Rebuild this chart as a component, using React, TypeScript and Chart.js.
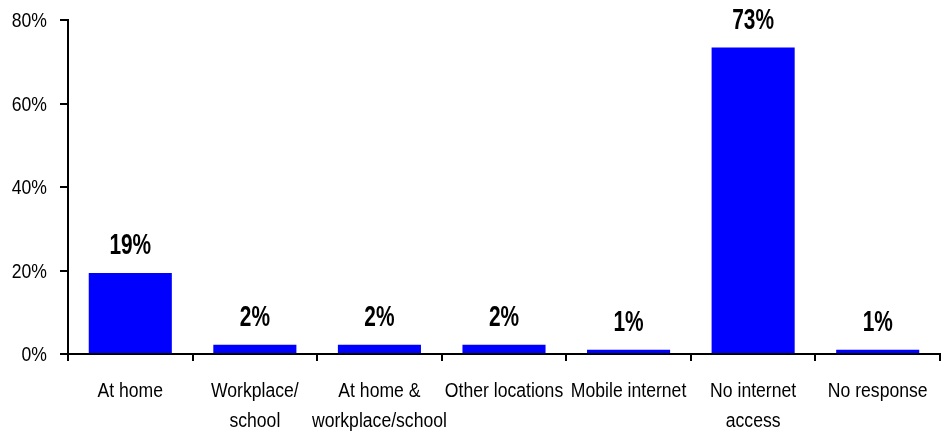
import React, { useEffect, useRef } from "react";
import { Chart, registerables } from "chart.js";

Chart.register(...registerables);

const categories: (string | string[])[] = [
  "At home",
  ["Workplace/", "school"],
  ["At home &", "workplace/school"],
  "Other locations",
  "Mobile internet",
  ["No internet", "access"],
  "No response",
];
const values: number[] = [19.4, 2.2, 2.2, 2.2, 1.0, 73.4, 1.0];
const valueLabels: string[] = ["19%", "2%", "2%", "2%", "1%", "73%", "1%"];
const yTicks: number[] = [0, 20, 40, 60, 80];

const FONT = "'Liberation Sans', Arial, sans-serif";

function drawNarrow(ctx: any, text: string, x: number, y: number, sx: number) {
  ctx.save();
  ctx.translate(x, y);
  ctx.scale(sx, 1);
  ctx.fillText(text, 0, 0);
  ctx.restore();
}

const textPlugin = {
  id: "narrowText",
  afterDraw(chart: any) {
    const ctx = chart.ctx;
    const xs = chart.scales.x;
    const ys = chart.scales.y;
    const bottom = chart.chartArea.bottom;
    ctx.save();
    ctx.fillStyle = "#000";
    ctx.textBaseline = "alphabetic";

    // y tick labels
    ctx.font = `20px ${FONT}`;
    ctx.textAlign = "right";
    ys.ticks.forEach((t: any, i: number) => {
      const y = ys.getPixelForTick(i);
      drawNarrow(ctx, `${t.value}%`, ys.right - 21, y + 7, 0.88);
    });

    // x tick labels
    ctx.textAlign = "center";
    categories.forEach((lab, i) => {
      const x = xs.getPixelForTick(i);
      const lines = Array.isArray(lab) ? lab : [lab];
      lines.forEach((line, j) => {
        drawNarrow(ctx, line, x, bottom + 43 + j * 30, 0.88);
      });
    });

    // value labels
    ctx.font = `bold 29px ${FONT}`;
    const meta = chart.getDatasetMeta(0);
    meta.data.forEach((bar: any, i: number) => {
      drawNarrow(ctx, valueLabels[i], bar.x, bar.y - 19, 0.72);
    });
    ctx.restore();
  },
};

export default function App() {
  const ref = useRef<HTMLCanvasElement>(null);
  useEffect(() => {
    if (!ref.current) return;
    const chart = new Chart(ref.current, {
      type: "bar",
      data: {
        labels: categories,
        datasets: [
          {
            data: values,
            backgroundColor: "#0000FF",
            borderWidth: 0,
            categoryPercentage: 1,
            barPercentage: 0.667,
          },
        ],
      },
      options: {
        animation: false,
        responsive: false,
        maintainAspectRatio: false,
        layout: { padding: { top: 20, left: 12, right: 2, bottom: 0 } },
        plugins: { legend: { display: false }, tooltip: { enabled: false } },
        scales: {
          x: {
            afterFit(scale: any) {
              scale.height = 80;
            },
            border: { display: true, color: "#000", width: 2 },
            grid: {
              display: true,
              drawOnChartArea: false,
              drawTicks: true,
              tickLength: 7,
              color: "#000",
              lineWidth: 2,
              offset: true,
            },
            ticks: {
              color: "rgba(0,0,0,0)",
              font: { family: FONT, size: 4, lineHeight: 1 },
              maxRotation: 0,
              minRotation: 0,
              autoSkip: false,
              padding: 14,
            },
          },
          y: {
            min: 0,
            max: 80,
            afterBuildTicks(scale: any) {
              scale.ticks = yTicks.map((v) => ({ value: v }));
            },
            afterFit(scale: any) {
              scale.width = 56;
            },
            border: { display: true, color: "#000", width: 2 },
            grid: {
              display: true,
              drawOnChartArea: false,
              drawTicks: true,
              tickLength: 8,
              color: "#000",
              lineWidth: 2,
            },
            ticks: {
              color: "rgba(0,0,0,0)",
              font: { family: FONT, size: 4, lineHeight: 1 },
              padding: 13,
              callback: (v: any) => `${v}%`,
            },
          },
        },
      },
      plugins: [textPlugin],
    });
    return () => chart.destroy();
  }, []);
  return (
    <div style={{ position: "fixed", left: 0, top: 0, width: 942, height: 434, background: "#fff" }}>
      <canvas ref={ref} width={942} height={434} style={{ display: "block" }} />
    </div>
  );
}
